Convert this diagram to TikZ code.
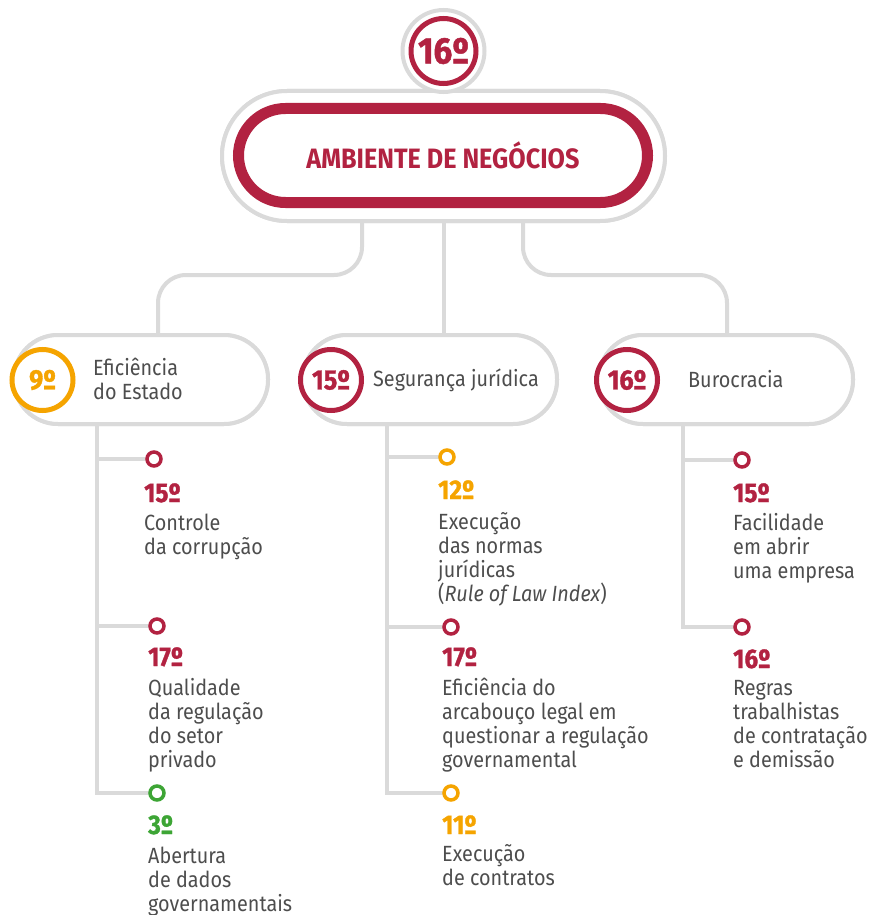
\documentclass[tikz,border=0pt]{standalone}
\usepackage{fontspec}
\setmainfont{Fira Sans}[FakeStretch=0.9]
\newfontfamily\heavyfam{Fira Sans}[FakeStretch=0.9, FakeBold=1.2]
\newcommand\heavyfont{\heavyfam\bfseries}
\definecolor{cred}{HTML}{B22241}
\definecolor{corange}{HTML}{F5A400}
\definecolor{cgreen}{HTML}{3DA535}
\definecolor{cgray}{HTML}{DADADA}
\definecolor{ctext}{HTML}{4D4D4D}
\tikzset{
  link/.style={draw=cgray, line width=4pt, rounded corners=28pt},
  tree/.style={draw=cgray, line width=4pt},
  graypill/.style={draw=cgray, line width=4pt, fill=white, rectangle, inner sep=0pt, rounded corners=44pt, minimum width=254pt, minimum height=89pt},
  rankcirc/.style={circle, draw=#1, text=#1, line width=5pt, fill=white, minimum size=61pt, inner sep=0pt, font=\fontsize{28}{28}\selectfont\heavyfont},
  dot/.style={circle, draw=#1, line width=3.5pt, fill=white, minimum size=14pt, inner sep=0pt},
  rank/.style={anchor=base west, inner sep=0pt, text=#1, font=\fontsize{27}{27}\selectfont\heavyfont},
  item/.style={anchor=base west, inner sep=0pt, text=ctext, align=left, font=\fontsize{22}{24}\selectfont},
}
\begin{document}
\begin{tikzpicture}[x=1pt,y=-1pt]
\useasboundingbox (0,0) rectangle (872,915);
% coordinates of junctions
\coordinate (jy) at (0,275);
\coordinate (eTrunk) at (97,424);
\coordinate (sTrunk) at (387,424);
\coordinate (bTrunk) at (683,424);
% second-level pill positions
\path (141,379.5) coordinate (pEc) (430,379.5) coordinate (pSc) (726,379.5) coordinate (pBc);
% item dots
\path (154,459) coordinate (e1) (157,626) coordinate (e2) (157,793) coordinate (e3)
      (447,457) coordinate (s1) (451,627) coordinate (s2) (451,793) coordinate (s3)
      (742,460) coordinate (b1) (742,627) coordinate (b2);
% tree connectors
\draw[tree] (eTrunk) |- (e3);
\draw[tree] (eTrunk |- e1) -- (e1);
\draw[tree] (eTrunk |- e2) -- (e2);
\draw[tree] (sTrunk) |- (s3);
\draw[tree] (sTrunk |- s1) -- (s1);
\draw[tree] (sTrunk |- s2) -- (s2);
\draw[tree] (bTrunk) |- (b2);
\draw[tree] (bTrunk |- b1) -- (b1);
% main pill
\node[draw=cgray, line width=4pt, fill=white, rectangle, inner sep=0pt, rounded corners=65pt, minimum width=443pt, minimum height=130pt] (gpill) at (443.5,156) {};
% second-level pills
\node[graypill] (pE) at (pEc) {};
\node[graypill] (pS) at (pSc) {};
\node[graypill] (pB) at (pBc) {};
% top connectors
\draw[link] ([xshift=-81.5pt]gpill.south) -- ([xshift=-81.5pt]gpill.south |- jy) -| ([xshift=17pt]pE.north);
\draw[link] (gpill.south) -- (gpill.south |- pS.north);
\draw[link] ([xshift=79.5pt]gpill.south) -- ([xshift=79.5pt]gpill.south |- jy) -| ([xshift=1pt]pB.north);
% redraw pills on top of connector ends
\node[graypill] at (pEc) {};
\node[graypill] at (pSc) {};
\node[graypill] at (pBc) {};
\node[draw=cgray, line width=4pt, fill=white, rectangle, inner sep=0pt, rounded corners=65pt, minimum width=443pt, minimum height=130pt] at (443.5,156) {};
% red pill
\node[draw=cred, line width=11pt, fill=white, rectangle, inner sep=0pt, rounded corners=47pt, minimum width=409pt, minimum height=94pt, text=cred, font=\fontsize{28}{28}\selectfont\bfseries] (main) at (443,155.5) {AMBIENTE DE NEGÓCIOS};
% top rank circle
\node[circle, draw=cgray, line width=4pt, fill=white, minimum size=82pt, inner sep=0pt] (topring) at (443.5,51) {};
\node[circle, draw=cred, text=cred, line width=5pt, fill=white, minimum size=65pt, inner sep=0pt, font=\fontsize{37}{37}\selectfont\heavyfont] (top) at (443.5,51) {16º};
% pill rank circles
\node[rankcirc=corange] (cE) at (42.5,380) {9º};
\node[rankcirc=cred] (cS) at (331,380) {15º};
\node[rankcirc=cred] (cB) at (627,380) {16º};
% pill labels
\node[item] (lE) at (93,399) {Eficiência\\do Estado};
\node[item] (lS) at (373,386) {Segurança jurídica};
\node[item] (lB) at (688,387) {Burocracia};
% dots
\node[dot=cred] (de1) at (e1) {};
\node[dot=cred] (de2) at (e2) {};
\node[dot=cgreen] (de3) at (e3) {};
\node[dot=corange] (ds1) at (s1) {};
\node[dot=cred] (ds2) at (s2) {};
\node[dot=corange] (ds3) at (s3) {};
\node[dot=cred] (db1) at (b1) {};
\node[dot=cred] (db2) at (b2) {};
% items left
\node[rank=cred] (re1) at (144,502) {15º};
\node[item] (te1) at (144,554) {Controle\\da corrupção};
\node[rank=cred] (re2) at (148,666) {17º};
\node[item] (te2) at (148,767) {Qualidade\\da regulação\\do setor\\privado};
\node[rank=cgreen] (re3) at (148,834) {3º};
\node[item] (te3) at (148,911) {Abertura\\de dados\\governamentais};
% items middle
\node[rank=corange] (rs1) at (438,499) {12º};
\node[item] (ts1) at (438,601) {Execução\\das normas\\jurídicas\\(\textit{Rule of Law Index})};
\node[rank=cred] (rs2) at (442,666) {17º};
\node[item] (ts2) at (442,767) {Eficiência do\\arcabouço legal em\\questionar a regulação\\governamental};
\node[rank=corange] (rs3) at (442,834) {11º};
\node[item] (ts3) at (442,885) {Execução\\de contratos};
% items right
\node[rank=cred] (rb1) at (733,502) {15º};
\node[item] (tb1) at (733,578) {Facilidade\\em abrir\\uma empresa};
\node[rank=cred] (rb2) at (733,668) {16º};
\node[item] (tb2) at (733,767) {Regras\\trabalhistas\\de contratação\\e demissão};
\end{tikzpicture}
\end{document}
